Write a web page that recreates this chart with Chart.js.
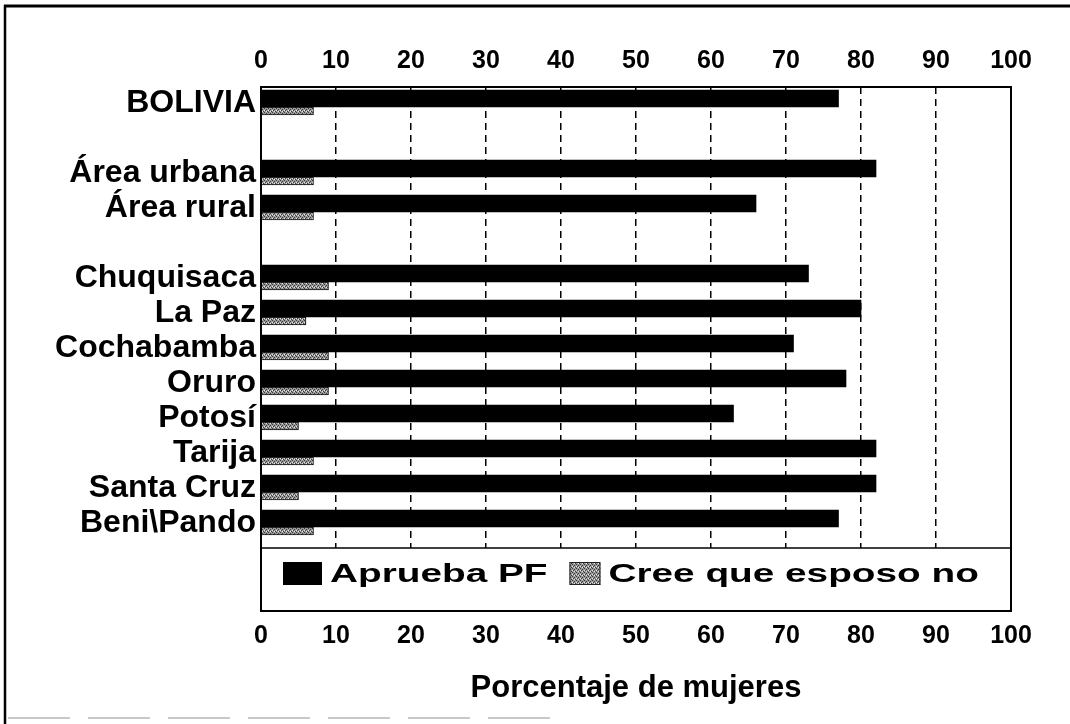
<!DOCTYPE html>
<html>
<head>
<meta charset="utf-8">
<script src="https://cdn.jsdelivr.net/npm/chart.js@4/dist/chart.umd.min.js"></script>
<style>
  body { margin: 0; background: #fff; }
</style>
</head>
<body>
<canvas id="myChart" width="1070" height="724"></canvas>
<script>
/*  data */
const categories = ['BOLIVIA', 'Área urbana', 'Área rural', 'Chuquisaca', 'La Paz', 'Cochabamba',
                    'Oruro', 'Potosí', 'Tarija', 'Santa Cruz', 'Beni\\Pando'];
// row index of each category (blank rows after BOLIVIA and after Área rural)
const rowPos = [0, 2, 3, 5, 6, 7, 8, 9, 10, 11, 12];
const apruebaPF = [77, 82, 66, 73, 80, 71, 78, 63, 82, 82, 77];
const creeEsposoNo = [7, 7, 7, 9, 6, 9, 9, 5, 7, 5, 7];
const seriesNames = ['Aprueba PF', 'Cree que esposo no'];
const xTickMin = 0, xTickMax = 100, xTickStep = 10;

const FONT = "'Liberation Sans', Arial, sans-serif";

/* speckled gray fill like the scanned hatch */
function grayPattern() {
  const c = document.createElement('canvas');
  c.width = 4; c.height = 4;
  const g = c.getContext('2d');
  g.fillStyle = '#9a9a9a';
  g.fillRect(0, 0, 4, 4);
  g.fillStyle = '#3a3a3a';
  g.fillRect(0, 0, 1, 1); g.fillRect(2, 1, 1, 1); g.fillRect(1, 2, 1, 1); g.fillRect(3, 3, 1, 1);
  g.fillStyle = '#e6e6e6';
  g.fillRect(2, 3, 1, 1); g.fillRect(0, 2, 1, 1);
  return g.createPattern(c, 'repeat');
}
const grayFill = grayPattern();

/* legend box inside the plot + plot frame + page frame */
const framePlugin = {
  id: 'framePlugin',
  beforeDraw(chart) {
    const ctx = chart.ctx;
    ctx.save();
    ctx.fillStyle = '#fff';
    ctx.fillRect(0, 0, chart.width, chart.height);
    ctx.restore();
  },
  afterDatasetsDraw(chart) {
    const ctx = chart.ctx;
    const a = chart.chartArea;
    const legTop = a.bottom - 63;
    ctx.save();
    ctx.fillStyle = '#fff';
    ctx.fillRect(a.left, legTop, a.right - a.left, a.bottom - legTop);
    ctx.strokeStyle = '#000';
    ctx.lineWidth = 1.5;
    ctx.beginPath();
    ctx.moveTo(a.left, legTop);
    ctx.lineTo(a.right, legTop);
    ctx.stroke();

    // legend items
    const ds = chart.data.datasets;
    const midY = legTop + 26;
    ctx.font = 'bold 25px ' + FONT;
    ctx.textBaseline = 'middle';
    let x = a.left + 22;
    const sw = [39, 31];
    for (let i = 0; i < ds.length; i++) {
      ctx.fillStyle = ds[i].backgroundColor;
      ctx.fillRect(x, midY - 12, sw[i], 23);
      if (i === 1) {
        ctx.strokeStyle = '#222';
        ctx.lineWidth = 1;
        ctx.strokeRect(x + 0.5, midY - 11.5, sw[i] - 1, 22);
      }
      x += sw[i] + 8;
      const w = ctx.measureText(ds[i].label).width * 1.55;
      ctx.save();
      ctx.translate(x, midY);
      ctx.scale(1.55, 1);
      ctx.fillStyle = '#000';
      ctx.fillText(ds[i].label, 0, 1);
      ctx.restore();
      x += w + 22;
    }

    // plot frame
    ctx.strokeStyle = '#000';
    ctx.lineWidth = 2;
    ctx.strokeRect(a.left, a.top, a.right - a.left, a.bottom - a.top);
    ctx.restore();
  },
  afterDraw(chart) {
    const ctx = chart.ctx;
    ctx.save();
    ctx.strokeStyle = '#000';
    ctx.lineWidth = 3;
    ctx.beginPath();
    ctx.moveTo(4, 6);
    ctx.lineTo(chart.width, 6);
    ctx.stroke();
    ctx.lineWidth = 2.5;
    ctx.beginPath();
    ctx.moveTo(5, 5);
    ctx.lineTo(5, chart.height);
    ctx.stroke();
    ctx.strokeStyle = '#c8c8c8';
    ctx.lineWidth = 2;
    ctx.setLineDash([62, 18]);
    ctx.beginPath();
    ctx.moveTo(8, 718);
    ctx.lineTo(560, 718);
    ctx.stroke();
    ctx.restore();
  }
};

const tickFont = { family: FONT, size: 25, weight: 'bold' };

new Chart(document.getElementById('myChart'), {
  type: 'bar',
  data: {
    datasets: [{
      label: seriesNames[0],
      data: rowPos.map((r, i) => ({ x: apruebaPF[i], y: r })),
      backgroundColor: '#000',
      barThickness: 17
    }, {
      label: seriesNames[1],
      data: rowPos.map((r, i) => ({ x: creeEsposoNo[i], y: r })),
      backgroundColor: grayFill,
      borderColor: '#111',
      borderWidth: 1,
      barThickness: 8
    }]
  },
  plugins: [framePlugin],
  options: {
    indexAxis: 'y',
    responsive: false,
    animation: false,
    layout: { padding: { left: 0, right: 59, top: 0, bottom: 0 } },
    plugins: {
      legend: { display: false },
      tooltip: { enabled: false }
    },
    scales: {
      y: {
        type: 'linear',
        reverse: true,
        offset: false,
        min: -0.571,
        max: 14.4,
        afterBuildTicks: s => { s.ticks = rowPos.map(v => ({ value: v })); },
        afterFit: s => { s.width = 261; },
        grid: { display: false, drawTicks: false, offset: false },
        border: { display: false },
        ticks: {
          autoSkip: false,
          padding: 5,
          labelOffset: -4,
          color: '#000',
          font: { family: FONT, size: 32, weight: 'bold' },
          callback: v => categories[rowPos.indexOf(v)]
        }
      },
      x: {
        type: 'linear',
        position: 'bottom',
        min: xTickMin,
        max: xTickMax,
        afterFit: s => { s.height = 113; },
        grid: {
          color: '#000',
          lineWidth: 1.5,
          drawTicks: false
        },
        border: { display: false, dash: [7, 5] },
        ticks: { stepSize: xTickStep, padding: 10, color: '#000', font: tickFont },
        title: {
          display: true,
          text: 'Porcentaje de mujeres',
          color: '#000',
          font: { family: FONT, size: 31, weight: 'bold' },
          padding: { top: 0, bottom: 17 }
        }
      },
      x2: {
        type: 'linear',
        axis: 'x',
        position: 'top',
        min: xTickMin,
        max: xTickMax,
        afterFit: s => { s.height = 87; },
        grid: { display: false, drawTicks: false },
        border: { display: false },
        ticks: { stepSize: xTickStep, padding: 11, color: '#000', font: tickFont }
      }
    }
  }
});
</script>
</body>
</html>
